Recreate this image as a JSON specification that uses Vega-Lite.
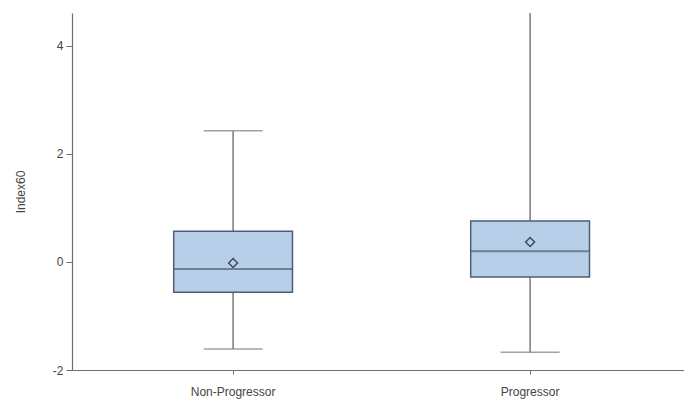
{
  "$schema": "https://vega.github.io/schema/vega-lite/v6.json",
  "width": 612,
  "height": 357,
  "autosize": "none",
  "padding": {"left": 72, "top": 13, "right": 0, "bottom": 30},
  "background": "white",
  "config": {
    "view": {"stroke": null},
    "font": "Liberation Sans",
    "axis": {
      "domainColor": "#6e6e6e",
      "tickColor": "#6e6e6e",
      "labelColor": "#444444",
      "titleColor": "#444444",
      "labelFont": "Liberation Sans",
      "titleFont": "Liberation Sans",
      "grid": false
    }
  },
  "data": {
    "values": [
      {"group": "Non-Progressor", "lower": -1.61, "q1": -0.56, "median": -0.13, "q3": 0.57, "upper": 2.43, "mean": -0.02},
      {"group": "Progressor", "lower": -1.67, "q1": -0.28, "median": 0.2, "q3": 0.76, "upper": 5.4, "mean": 0.37}
    ]
  },
  "encoding": {
    "x": {
      "field": "group",
      "type": "nominal",
      "sort": null,
      "scale": {"paddingInner": 0, "paddingOuter": 0.0303, "align": 0.7},
      "axis": {"title": null, "labelAngle": 0, "tickSize": 4, "labelPadding": 12, "labelFontSize": 12, "domainWidth": 1.2}
    }
  },
  "layer": [
    {
      "mark": {"type": "rule", "color": "#7a7a7a", "strokeWidth": 1.5},
      "encoding": {
        "y": {
          "field": "lower",
          "type": "quantitative",
          "scale": {"domain": [-2, 4.61], "nice": false, "zero": false},
          "axis": {"title": "Index60", "values": [-2, 0, 2, 4], "labelExpr": "datum.value + ''", "tickSize": 6, "labelPadding": 3, "labelFontSize": 12, "titleFontSize": 12, "titleFontWeight": "normal", "titlePadding": 25, "domainWidth": 1.2}
        },
        "y2": {"field": "q1"}
      }
    },
    {
      "mark": {"type": "rule", "color": "#7a7a7a", "strokeWidth": 1.5, "clip": true},
      "encoding": {
        "y": {"field": "q3", "type": "quantitative"},
        "y2": {"field": "upper"}
      }
    },
    {
      "mark": {"type": "tick", "color": "#7a7a7a", "size": 59, "thickness": 1.5},
      "encoding": {"y": {"field": "lower", "type": "quantitative"}}
    },
    {
      "mark": {"type": "tick", "color": "#7a7a7a", "size": 59, "thickness": 1.5, "clip": true},
      "encoding": {"y": {"field": "upper", "type": "quantitative"}}
    },
    {
      "mark": {"type": "bar", "fill": "#b8cfe9", "stroke": "#4f5e72", "strokeWidth": 1.5, "width": {"band": 0.4}},
      "encoding": {
        "y": {"field": "q1", "type": "quantitative"},
        "y2": {"field": "q3"}
      }
    },
    {
      "mark": {"type": "tick", "color": "#4f5e72", "size": 119, "thickness": 2},
      "encoding": {"y": {"field": "median", "type": "quantitative"}}
    },
    {
      "mark": {"type": "point", "shape": "diamond", "filled": false, "stroke": "#3e4c60", "strokeWidth": 1.5, "size": 80, "opacity": 1},
      "encoding": {"y": {"field": "mean", "type": "quantitative"}}
    }
  ]
}
